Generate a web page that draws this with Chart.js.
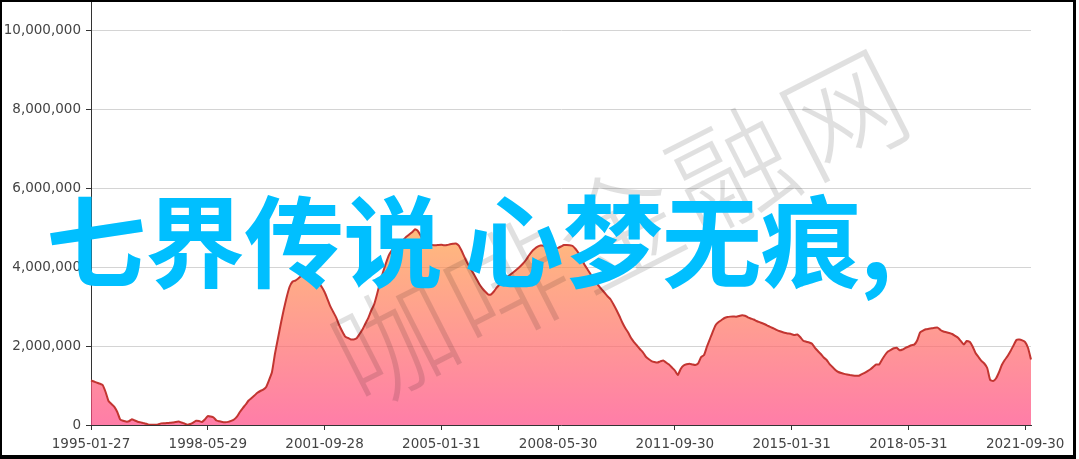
<!DOCTYPE html>
<html>
<head>
<meta charset="utf-8">
<script src="https://cdn.jsdelivr.net/npm/chart.js@4"></script>
<style>
  html, body { margin: 0; padding: 0; background: #fff; }
  #wrap { position: relative; width: 1079px; height: 459px; background: #fff; overflow: hidden; }
  #chart { position: absolute; left: 0; top: 0; }
  #frame { position: absolute; left: 0; top: 0; width: 1076px; height: 459px; box-sizing: border-box;
           border-style: solid; border-color: #000; border-width: 2px 3px 4px 2px; pointer-events: none; }
</style>
</head>
<body>
<div id="wrap">
  <canvas id="chart" width="1079" height="459"></canvas>
  <div id="frame"></div>
</div>
<script>
// x ticks shown every 40 months
var tickLabels = ['1995-01-27', '1998-05-29', '2001-09-28', '2005-01-31', '2008-05-30',
                  '2011-09-30', '2015-01-31', '2018-05-31', '2021-09-30'];
var tickEvery = 40;
var monthCount = 323; // 1995-01 .. 2021-11

var yTicks = [0, 2000000, 4000000, 6000000, 8000000, 10000000];

var values = [
  1127000, 1101000, 1073000, 1048000, 1013000, 835000, 608000, 532000, 461000, 329000,
  139000, 106000, 86000, 94000, 147000, 114000, 84000, 66000, 48000, 30000,
  8000, 5000, 5000, 15000, 41000, 46000, 48000, 56000, 61000, 76000,
  86000, 63000, 38000, 5000, 25000, 63000, 106000, 99000, 76000, 139000,
  225000, 213000, 190000, 114000, 94000, 76000, 71000, 79000, 104000, 139000,
  210000, 329000, 430000, 519000, 620000, 684000, 747000, 815000, 861000, 894000,
  962000, 1139000, 1342000, 1797000, 2177000, 2557000, 2911000, 3228000, 3494000, 3628000,
  3658000, 3709000, 3772000, 3835000, 3873000, 3823000, 3747000, 3658000, 3595000, 3501000,
  3367000, 3190000, 3003000, 2861000, 2719000, 2532000, 2380000, 2246000, 2203000, 2167000,
  2167000, 2197000, 2304000, 2418000, 2570000, 2714000, 2899000, 3053000, 3316000, 3608000,
  3861000, 4089000, 4291000, 4418000, 4494000, 4544000, 4613000, 4684000, 4765000, 4823000,
  4881000, 4957000, 4911000, 4785000, 4658000, 4595000, 4557000, 4557000, 4550000, 4557000,
  4562000, 4552000, 4557000, 4575000, 4587000, 4595000, 4544000, 4405000, 4240000, 4089000,
  3962000, 3835000, 3704000, 3570000, 3468000, 3380000, 3309000, 3304000, 3380000, 3481000,
  3557000, 3646000, 3722000, 3772000, 3828000, 3886000, 3949000, 4013000, 4089000, 4177000,
  4291000, 4392000, 4461000, 4516000, 4544000, 4539000, 4481000, 4418000, 4443000, 4468000,
  4486000, 4519000, 4557000, 4560000, 4552000, 4532000, 4456000, 4354000, 4228000, 4063000,
  3949000, 3835000, 3696000, 3608000, 3519000, 3430000, 3342000, 3253000, 3177000, 3051000,
  2911000, 2759000, 2595000, 2456000, 2342000, 2203000, 2101000, 2013000, 1924000, 1848000,
  1734000, 1671000, 1620000, 1595000, 1580000, 1610000, 1633000, 1582000, 1529000, 1456000,
  1380000, 1266000, 1418000, 1506000, 1537000, 1552000, 1534000, 1519000, 1562000, 1722000,
  1772000, 1987000, 2177000, 2367000, 2532000, 2608000, 2658000, 2709000, 2734000, 2744000,
  2747000, 2742000, 2759000, 2780000, 2767000, 2727000, 2696000, 2671000, 2633000, 2603000,
  2575000, 2544000, 2506000, 2473000, 2438000, 2400000, 2372000, 2347000, 2327000, 2314000,
  2299000, 2278000, 2291000, 2223000, 2132000, 2109000, 2089000, 2056000, 1954000, 1873000,
  1797000, 1709000, 1646000, 1544000, 1468000, 1392000, 1342000, 1316000, 1294000, 1279000,
  1266000, 1256000, 1248000, 1246000, 1286000, 1322000, 1365000, 1413000, 1473000, 1534000,
  1532000, 1658000, 1772000, 1858000, 1904000, 1942000, 1957000, 1891000, 1911000, 1954000,
  1985000, 2018000, 2035000, 2139000, 2342000, 2390000, 2423000, 2435000, 2448000, 2461000,
  2466000, 2405000, 2367000, 2349000, 2329000, 2304000, 2258000, 2210000, 2122000, 2038000,
  2127000, 2106000, 1987000, 1823000, 1722000, 1625000, 1557000, 1443000, 1144000, 1114000,
  1177000, 1329000, 1519000, 1646000, 1747000, 1873000, 2013000, 2152000, 2162000, 2142000,
  2101000, 1949000, 1658000
];

var titleText = '七界传说 心梦无痕,';
var watermarkText = '咖啡金融网';

var labels = [];
for (var i = 0; i < monthCount; i++) {
  if (i % tickEvery === 0) {
    labels.push(tickLabels[i / tickEvery]);
  } else {
    var yr = 1995 + Math.floor(i / 12);
    var mo = (i % 12) + 1;
    labels.push(yr + '-' + (mo < 10 ? '0' + mo : mo));
  }
}

var overlay = {
  id: 'overlay',
  afterDatasetsDraw: function(chart) {
    var ctx = chart.ctx;
    // watermark
    ctx.save();
    ctx.translate(622, 226);
    ctx.rotate(-27 * Math.PI / 180);
    ctx.font = '300 120px "Noto Sans CJK SC"';
    ctx.letterSpacing = '6px';
    ctx.textAlign = 'center';
    ctx.textBaseline = 'middle';
    ctx.fillStyle = 'rgba(0, 0, 0, 0.12)';
    ctx.fillText(watermarkText, 0, 0);
    ctx.restore();
    // big title
    ctx.save();
    ctx.font = 'bold 100px "Noto Sans CJK SC"';
    ctx.letterSpacing = '-1px';
    ctx.textAlign = 'left';
    ctx.textBaseline = 'alphabetic';
    ctx.fillStyle = '#00bfff';
    ctx.fillText(titleText, 46, 280);
    ctx.restore();
  }
};

var tickFont = { family: '"DejaVu Sans"', size: 13.5 };

var areaChart = new Chart(document.getElementById('chart'), {
  type: 'line',
  data: {
    labels: labels,
    datasets: [{
      data: values,
      borderColor: '#c23531',
      borderWidth: 2,
      pointRadius: 0,
      tension: 0.15,
      fill: 'origin',
      backgroundColor: function(context) {
        var chart = context.chart;
        if (!chart.chartArea) return 'rgba(255,126,168,0.7)';
        var top = chart.scales.y.getPixelForValue(Math.max.apply(null, values));
        var bottom = chart.scales.y.getPixelForValue(0);
        var g = chart.ctx.createLinearGradient(0, top, 0, bottom);
        g.addColorStop(0, 'rgba(255, 158, 68, 0.7)');
        g.addColorStop(1, 'rgba(255, 70, 131, 0.7)');
        return g;
      }
    }]
  },
  options: {
    responsive: false,
    animation: false,
    layout: { padding: { left: 0, top: 2, right: 48, bottom: 0 } },
    plugins: { legend: { display: false }, tooltip: { enabled: false } },
    scales: {
      x: {
        type: 'category',
        offset: false,
        border: { color: '#333', width: 1 },
        grid: { drawOnChartArea: false, drawTicks: true, tickLength: 5, tickColor: '#333' },
        ticks: {
          autoSkip: false,
          maxRotation: 0,
          padding: 6,
          color: '#444',
          font: tickFont,
          callback: function(value, index) {
            return index % tickEvery === 0 ? labels[index] : null;
          }
        },
        afterFit: function(scale) { scale.height = 34; }
      },
      y: {
        min: 0,
        max: 10710000,
        border: { color: '#333', width: 1 },
        grid: { color: '#d4d4d4', tickColor: '#333', tickLength: 5 },
        ticks: {
          padding: 5,
          color: '#444',
          font: tickFont,
          callback: function(v) { return v.toLocaleString('en-US'); }
        },
        afterBuildTicks: function(scale) {
          scale.ticks = yTicks.map(function(v) { return { value: v }; });
        },
        afterFit: function(scale) {
          scale.width = 91;
          scale.paddingTop = 0;
          scale.paddingBottom = 0;
        }
      }
    }
  },
  plugins: [overlay]
});
</script>
</body>
</html>
